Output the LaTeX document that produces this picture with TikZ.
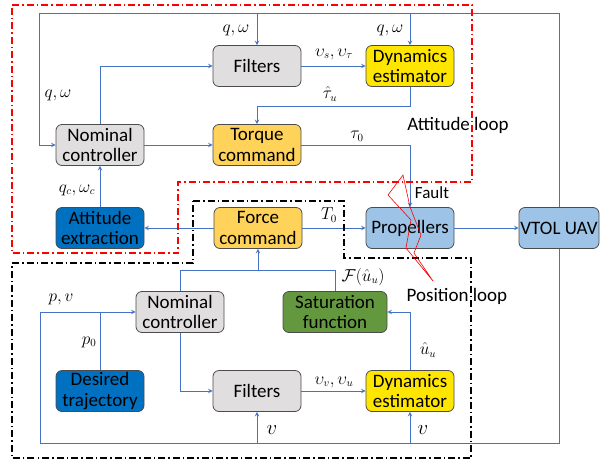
\documentclass[tikz,border=0pt]{standalone}
\usepackage{fontspec}
\setmainfont{Carlito}
\usetikzlibrary{calc}
\definecolor{flowblue}{RGB}{68,114,196}
\definecolor{boxgray}{RGB}{224,222,222}
\definecolor{boxyellow}{RGB}{255,230,0}
\definecolor{boxorange}{RGB}{255,210,90}
\definecolor{boxdark}{RGB}{0,112,192}
\definecolor{boxlight}{RGB}{157,195,230}
\definecolor{boxgreen}{RGB}{100,152,62}
\begin{document}
\begin{tikzpicture}[x=1pt,y=-1pt,>=stealth,
block/.style={rectangle,rounded corners=6pt,draw=black!70,line width=0.8pt,minimum width=88pt,minimum height=41pt,align=center,font=\fontsize{19}{20.5}\selectfont,inner sep=1pt},
lbl/.style={inner sep=0pt,font=\fontsize{16}{18}\selectfont},
looptxt/.style={inner sep=0pt,font=\fontsize{19}{21}\selectfont},
loopline/.style={line width=1.6pt,dash pattern=on 7pt off 3pt on 1.5pt off 3pt}
]
\useasboundingbox (0,0) rectangle (600,464);
\fill[white] (0,0) rectangle (600,464);

% attitude loop
\node[block,fill=boxgray](filtA) at (257,66){Filters};
\node[block,fill=boxyellow](dynA) at (410,66){Dynamics\\estimator};
\node[block,fill=boxgray](nomA) at (100,145){Nominal\\controller};
\node[block,fill=boxorange](torque) at (257,145){Torque\\command};
\node[block,fill=boxdark](attext) at (100,228){Attitude\\extraction};
\node[block,fill=boxorange](force) at (258,228){Force\\command};
\node[block,fill=boxlight](prop) at (410,228){Propellers};
\node[block,fill=boxlight,minimum width=80pt](uav) at (559,228){VTOL UAV};

% position loop
\node[block,fill=boxgray](nomB) at (180,312){Nominal\\controller};
\node[block,fill=boxgreen,minimum width=104pt](sat) at (335,312){Saturation\\function};
\node[block,fill=boxdark](traj) at (100,391){Desired\\trajectory};
\node[block,fill=boxgray](filtB) at (257,391){Filters};
\node[block,fill=boxyellow](dynB) at (410,391){Dynamics\\estimator};

\coordinate (fbT) at (39,13);
\coordinate (fbB) at (40,443);
\coordinate (tauHat) at (257,106);
\coordinate (jn) at (180,270);

\begin{scope}[->, flowblue, line width=1pt]
\draw (uav.north) |- (fbT) |- (nomA.west);
\draw (filtA.north |- fbT) -- (filtA.north);
\draw (dynA.north |- fbT) -- (dynA.north);
\draw (nomA.north) |- (filtA.west);
\draw (filtA.east) -- (dynA.west);
\draw (dynA.south) |- (tauHat) -- (torque.north);
\draw (nomA.east) -- (torque.west);
\draw (torque.east) -| (prop.north);
\draw (attext.north) -- (nomA.south);
\draw (force.west) -- (attext.east);
\draw (force.east) -- (prop.west);
\draw (prop.east) -- (uav.west);

\draw (uav.south) |- (fbB) |- (nomB.west);
\draw (filtB.south |- fbB) -- (filtB.south);
\draw (dynB.south |- fbB) -- (dynB.south);
\draw[-] (traj.north) -- (traj.north |- nomB.west);
\draw[-] (nomB.north) |- (jn) -| (sat.north);
\draw (force.south |- jn) -- (force.south);
\draw (nomB.south) |- (filtB.west);
\draw (filtB.east) -- (dynB.west);
\draw (dynB.north) |- (sat.east);
\end{scope}

% labels
\node[lbl](lqw1) at (236,30){$q,\omega$};
\node[lbl](lqw2) at (390,30){$q,\omega$};
\node[lbl](lqw3) at (58,95){$q,\omega$};
\node[lbl](lvs) at (334,54){$\upsilon_s,\upsilon_\tau$};
\node[lbl](ltauh) at (330,94){$\hat{\tau}_u$};
\node[lbl](ltau) at (357,136){$\tau_0$};
\node[lbl](lqc) at (77,190){$q_c,\omega_c$};
\node[lbl](lT) at (329,215){$T_0$};
\node[lbl](lF) at (363,277){$\mathcal{F}(\hat{u}_u)$};
\node[lbl](lpv) at (61,299){$p,v$};
\node[lbl](lp0) at (89,342){$p_0$};
\node[lbl](luh) at (428,350){$\hat{u}_u$};
\node[lbl](lvv) at (334,382){$\upsilon_v,\upsilon_u$};
\node[lbl,font=\fontsize{20}{22}\selectfont](lv1) at (272,430){$v$};
\node[lbl,font=\fontsize{20}{22}\selectfont](lv2) at (423,430){$v$};

% loops
\draw[loopline,red] (12,5) -- (472,5) -- (472,182) -- (178,182) -- (178,253) -- (12,253) -- cycle;
\draw[loopline,black,line width=1.3pt] (193,201) -- (344,201) -- (344,258) -- (471,258) -- (471,458) -- (12,458) -- (12,263) -- (193,263) -- cycle;

\node[looptxt](attloop) at (458,125){Attitude loop};
\node[looptxt](posloop) at (457,296){Position loop};
\node[looptxt,font=\fontsize{17}{19}\selectfont](fault) at (432,193){Fault};

% fault bolt
\draw[red,line width=0.6pt] (403,175) -- (388,195) -- (411,220) -- (406,248) -- (433,281) -- (414,253) -- (421,235) -- (410,207) -- cycle;
\end{tikzpicture}
\end{document}
